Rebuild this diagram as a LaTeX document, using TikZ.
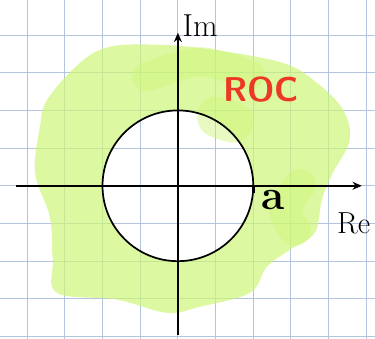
\documentclass[tikz,border=0pt]{standalone}
\usetikzlibrary{arrows.meta}
\definecolor{gridblue}{RGB}{178,196,222}
\definecolor{rocgreen}{RGB}{205,245,120}
\definecolor{rocred}{RGB}{236,56,36}
\begin{document}
\begin{tikzpicture}[
    axis/.style={line width=1.3pt, -{Stealth[length=7pt,width=6pt]}},
    lbl/.style={inner sep=0pt, font=\fontsize{24}{24}\selectfont}
  ]
    \useasboundingbox (-4.72,-4.06) rectangle (5.23,4.93);
    % background grid
    \draw[gridblue, line width=0.7pt] (-4.72,-4.06) grid (5.23,4.93);
    % region of convergence
    \fill[rocgreen, opacity=0.7, even odd rule]
        plot[smooth cycle, tension=0.6] coordinates {
          (-3.79,0.34) (-3.66,1.56) (-3.47,2.28) (-2.60,3.26) (-1.80,3.69)
          (-0.48,3.74) (0.93,3.61) (2.79,3.26) (3.69,2.73) (4.38,2.02)
          (4.56,1.22) (4.11,0.34) (3.82,-0.37) (3.63,-1.25) (2.97,-1.70)
          (2.36,-2.15) (1.91,-2.84) (0.58,-3.21) (-0.29,-3.37) (-1.62,-3.02)
          (-3.21,-2.84) (-3.32,-1.96) (-3.40,-0.82)}
        (0,0) circle (2);
    \draw[rocgreen, opacity=0.45, line width=22pt, line cap=round, line join=round]
        plot[smooth] coordinates {(-0.82,2.89) (0.58,3.29) (1.91,2.94)};
    \draw[rocgreen, opacity=0.45, line width=20pt, line cap=round, line join=round]
        plot[smooth cycle] coordinates {(0.98,2.02) (1.64,1.80) (1.50,1.50) (0.90,1.70)};
    \draw[rocgreen, opacity=0.45, line width=24pt, line cap=round, line join=round]
        plot[smooth] coordinates {(3.24,0.03) (2.84,-0.64) (3.10,-1.17)};
    % axes
    \coordinate (reL) at (-4.29,0);
    \coordinate (reR) at (4.88,0);
    \coordinate (imB) at (0,-3.95);
    \coordinate (imT) at (0,4.06);
    \draw[axis] (reL) -- (reR);
    \draw[axis] (imB) -- (imT);
    % unit circle of radius a
    \draw[line width=1.3pt] (0,0) circle (2);
    \coordinate (pa) at (2,0);
    \draw[line width=2.2pt] (pa) -- ++(0,-0.2);
    % labels
    \node[lbl, anchor=south west] (im) at (0.12,3.95) {Im};
    \node[lbl, anchor=north west, font=\fontsize{23}{23}\selectfont] (re) at (4.22,-0.7) {Re};
    \node[lbl, anchor=north west, font=\fontsize{32}{32}\selectfont\bfseries] (a) at (2.2,-0.1) {a};
    \node[lbl, anchor=west, text=rocred, font=\fontsize{26}{26}\selectfont\sffamily\bfseries] (roc) at (1.2,2.55) {ROC};
\end{tikzpicture}
\end{document}
